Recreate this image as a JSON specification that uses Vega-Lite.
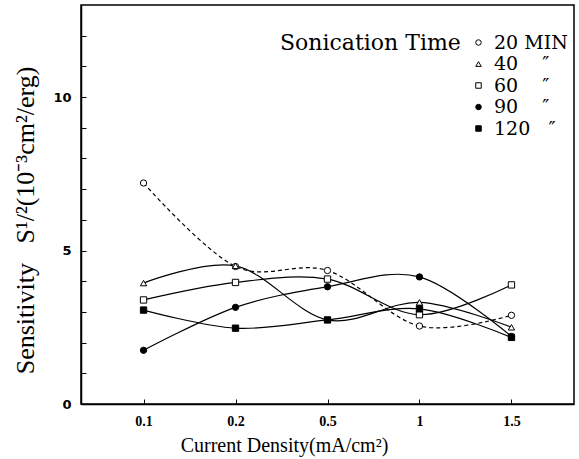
{
  "$schema": "https://vega.github.io/schema/vega-lite/v6.json",
  "width": 493,
  "height": 399,
  "autosize": {"type": "none"},
  "padding": {"left": 81, "top": 5, "right": 5, "bottom": 55},
  "background": "white",
  "config": {
    "view": {"stroke": "black", "strokeWidth": 1.5},
    "axis": {"grid": false, "domainColor": "black", "domainWidth": 1.5, "tickColor": "black", "labelColor": "black", "titleColor": "black"},
    "legend": {
      "orient": "none", "legendX": 199, "legendY": 28,
      "titleOrient": "left", "titleAnchor": "start", "titleBaseline": "top", "titlePadding": 8, "titleLimit": 300,
      "titleFont": "DejaVu Serif", "titleFontSize": 22, "titleFontWeight": "normal", "titleColor": "black",
      "labelFont": "DejaVu Serif", "labelFontSize": 19, "labelColor": "black", "labelLimit": 200,
      "symbolSize": 30, "symbolStrokeWidth": 1, "rowPadding": 1.5, "labelOffset": 6
    }
  },
  "data": {
    "values": [
      {"cd": "0.1", "t": "20 MIN", "s": 7.2},
      {"cd": "0.2", "t": "20 MIN", "s": 4.48},
      {"cd": "0.5", "t": "20 MIN", "s": 4.35},
      {"cd": "1", "t": "20 MIN", "s": 2.54},
      {"cd": "1.5", "t": "20 MIN", "s": 2.89},
      {"cd": "0.1", "t": "40\u00a0\u00a0\u00a0\u00a0″", "s": 3.94},
      {"cd": "0.2", "t": "40\u00a0\u00a0\u00a0\u00a0″", "s": 4.5},
      {"cd": "0.5", "t": "40\u00a0\u00a0\u00a0\u00a0″", "s": 2.74},
      {"cd": "1", "t": "40\u00a0\u00a0\u00a0\u00a0″", "s": 3.31},
      {"cd": "1.5", "t": "40\u00a0\u00a0\u00a0\u00a0″", "s": 2.5},
      {"cd": "0.1", "t": "60\u00a0\u00a0\u00a0\u00a0″", "s": 3.39},
      {"cd": "0.2", "t": "60\u00a0\u00a0\u00a0\u00a0″", "s": 3.96},
      {"cd": "0.5", "t": "60\u00a0\u00a0\u00a0\u00a0″", "s": 4.07},
      {"cd": "1", "t": "60\u00a0\u00a0\u00a0\u00a0″", "s": 2.91},
      {"cd": "1.5", "t": "60\u00a0\u00a0\u00a0\u00a0″", "s": 3.88},
      {"cd": "0.1", "t": "90\u00a0\u00a0\u00a0\u00a0″", "s": 1.75},
      {"cd": "0.2", "t": "90\u00a0\u00a0\u00a0\u00a0″", "s": 3.15},
      {"cd": "0.5", "t": "90\u00a0\u00a0\u00a0\u00a0″", "s": 3.82},
      {"cd": "1", "t": "90\u00a0\u00a0\u00a0\u00a0″", "s": 4.14},
      {"cd": "1.5", "t": "90\u00a0\u00a0\u00a0\u00a0″", "s": 2.2},
      {"cd": "0.1", "t": "120\u00a0\u00a0\u00a0″", "s": 3.06},
      {"cd": "0.2", "t": "120\u00a0\u00a0\u00a0″", "s": 2.47},
      {"cd": "0.5", "t": "120\u00a0\u00a0\u00a0″", "s": 2.74},
      {"cd": "1", "t": "120\u00a0\u00a0\u00a0″", "s": 3.1},
      {"cd": "1.5", "t": "120\u00a0\u00a0\u00a0″", "s": 2.17}
    ]
  },
  "encoding": {
    "x": {
      "field": "cd", "type": "ordinal", "sort": ["0.1", "0.2", "0.5", "1", "1.5"],
      "scale": {"type": "point", "padding": 0.68},
      "axis": {
        "title": "Current Density(mA/cm²)", "labelAngle": 0,
        "labelFont": "Liberation Serif", "labelFontWeight": "bold", "labelFontSize": 14, "labelPadding": 15,
        "tickSize": -5,
        "titleFont": "Liberation Serif", "titleFontSize": 20, "titleFontWeight": "normal",
        "titleX": 203, "titleY": 41, "titleBaseline": "middle", "titleAlign": "center"
      }
    },
    "y": {
      "field": "s", "type": "quantitative",
      "scale": {"domain": [0, 13], "nice": false, "zero": true},
      "axis": {
        "title": "Sensitivity\u00a0\u00a0\u00a0S¹/²(10⁻³cm²/erg)",
        "values": [0, 1, 2, 3, 4, 5, 6, 7, 8, 9, 10, 11, 12],
        "labelExpr": "datum.value % 5 == 0 ? datum.label : ''",
        "labelFont": "DejaVu Sans", "labelFontWeight": "bold", "labelFontSize": 13, "labelPadding": 15,
        "tickSize": -5,
        "titleFont": "Liberation Serif", "titleFontSize": 26, "titleFontWeight": "normal",
        "titleX": -56, "titleY": 215, "titleBaseline": "middle", "titleAlign": "center", "titleAngle": -90
      }
    }
  },
  "layer": [
    {
      "transform": [{"filter": "datum.t == '20 MIN'"}],
      "mark": {"type": "line", "interpolate": "cardinal", "strokeWidth": 1.2, "color": "black", "strokeDash": [4, 3]},
      "encoding": {"detail": {"field": "t"}}
    },
    {
      "transform": [{"filter": "datum.t != '20 MIN'"}],
      "mark": {"type": "line", "interpolate": "cardinal", "strokeWidth": 1.2, "color": "black"},
      "encoding": {"detail": {"field": "t"}}
    },
    {
      "mark": {"type": "point", "filled": true, "strokeWidth": 1, "size": 40, "opacity": 1},
      "encoding": {
        "shape": {
          "field": "t", "title": "Sonication Time",
          "scale": {"domain": ["20 MIN", "40\u00a0\u00a0\u00a0\u00a0″", "60\u00a0\u00a0\u00a0\u00a0″", "90\u00a0\u00a0\u00a0\u00a0″", "120\u00a0\u00a0\u00a0″"], "range": ["circle", "triangle-up", "square", "circle", "square"]}
        },
        "fill": {
          "field": "t", "title": "Sonication Time",
          "scale": {"domain": ["20 MIN", "40\u00a0\u00a0\u00a0\u00a0″", "60\u00a0\u00a0\u00a0\u00a0″", "90\u00a0\u00a0\u00a0\u00a0″", "120\u00a0\u00a0\u00a0″"], "range": ["white", "white", "white", "black", "black"]}
        },
        "stroke": {
          "field": "t", "title": "Sonication Time",
          "scale": {"domain": ["20 MIN", "40\u00a0\u00a0\u00a0\u00a0″", "60\u00a0\u00a0\u00a0\u00a0″", "90\u00a0\u00a0\u00a0\u00a0″", "120\u00a0\u00a0\u00a0″"], "range": ["black", "black", "black", "black", "black"]}
        }
      }
    }
  ]
}
